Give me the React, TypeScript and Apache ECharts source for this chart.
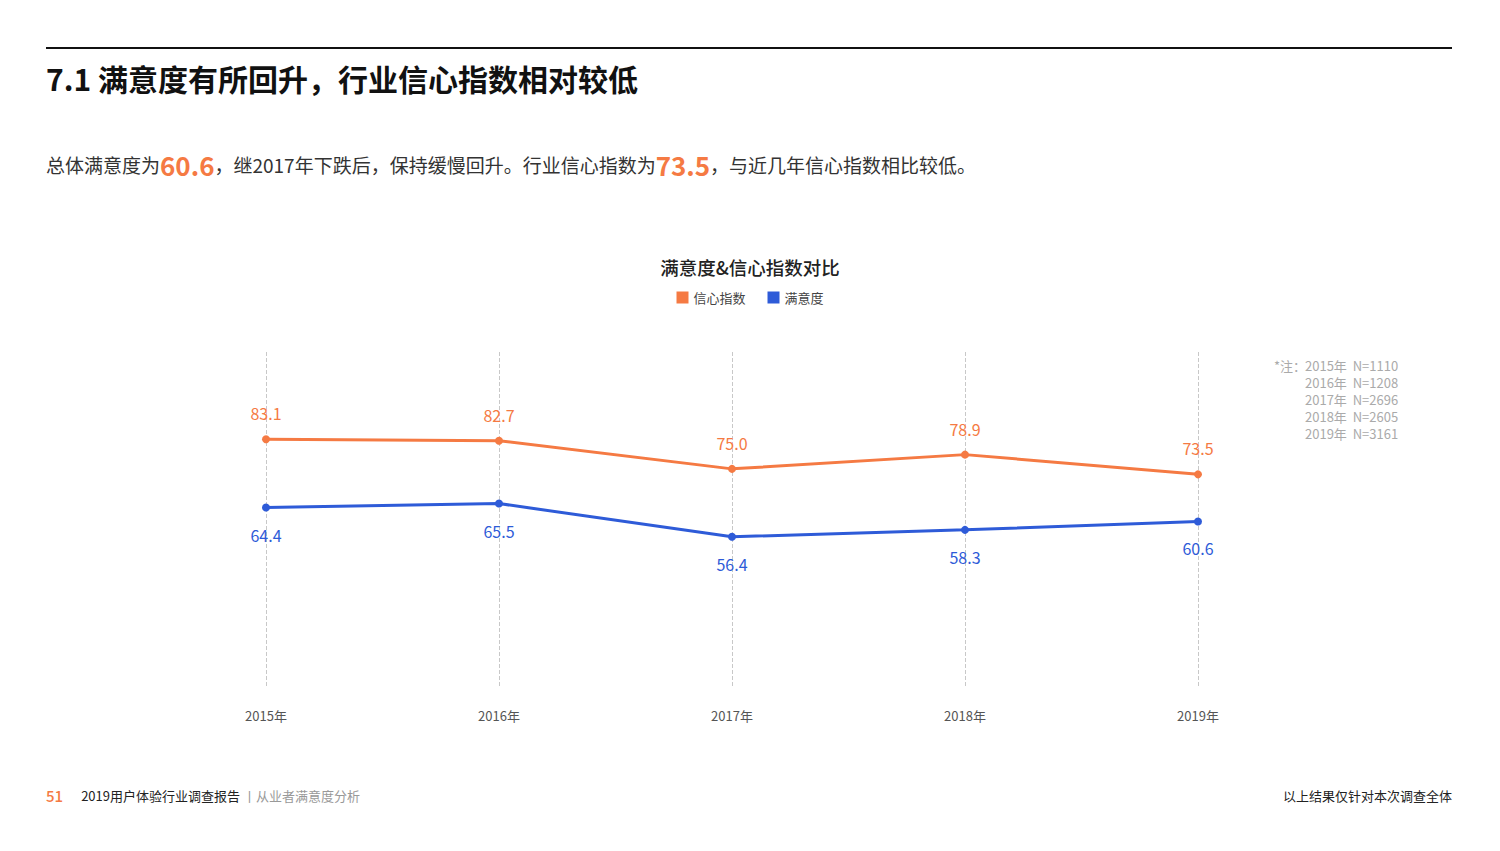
import React, { useEffect, useRef } from "react";
import * as echarts from "echarts";

const years = ["2015年", "2016年", "2017年", "2018年", "2019年"];
const confidence = [83.1, 82.7, 75.0, 78.9, 73.5];
const satisfaction = [64.4, 65.5, 56.4, 58.3, 60.6];
const noteLines = ["2015年  N=1110", "2016年  N=1208", "2017年  N=2696", "2018年  N=2605", "2019年  N=3161"];

const ORANGE = "#F57A43";
const BLUE = "#2E5BD8";
const FONT = "'Noto Sans CJK SC', 'Noto Sans', sans-serif";

export default function App() {
  const ref = useRef<HTMLDivElement>(null);
  useEffect(() => {
    if (!ref.current) return;
    const chart = echarts.init(ref.current, undefined, { renderer: "svg" });
    const graphics: any[] = [
      { type: "line", shape: { x1: 46, y1: 48, x2: 1452, y2: 48 }, style: { stroke: "#111", lineWidth: 2 } },
      {
        type: "text", x: 46, y: 78,
        style: { text: "7.1 满意度有所回升，行业信心指数相对较低", font: `bold 30px ${FONT}`, fill: "#111", verticalAlign: "middle" },
      },
      {
        type: "text", x: 46, y: 164,
        style: {
          text: "{a|总体满意度为}{b|60.6}{a|，继2017年下跌后，保持缓慢回升。行业信心指数为}{b|73.5}{a|，与近几年信心指数相比较低。}",
          verticalAlign: "middle",
          rich: {
            a: { fontSize: 19, fontFamily: FONT, fill: "#333", color: "#333" },
            b: { fontSize: 26, fontFamily: FONT, fontWeight: "bold", fill: ORANGE, color: ORANGE },
          },
        },
      },
      {
        type: "text", x: 1274, y: 365,
        style: { text: "*注：", font: `13px ${FONT}`, fill: "#aaa", verticalAlign: "middle" },
      },
      ...noteLines.map((t, i) => ({
        type: "text", x: 1305, y: 365 + i * 17,
        style: { text: t, font: `13px ${FONT}`, fill: "#aaa", verticalAlign: "middle" },
      })),
      {
        type: "text", x: 46, y: 795,
        style: {
          text: "{n|51}{s|     }{m|2019用户体验行业调查报告}{g| 丨从业者满意度分析}",
          verticalAlign: "middle",
          rich: {
            n: { fontSize: 15, fontFamily: FONT, fill: ORANGE, color: ORANGE, fontWeight: 500 },
            s: { fontSize: 13 },
            m: { fontSize: 13, fontFamily: FONT, fill: "#222", color: "#222" },
            g: { fontSize: 13, fontFamily: FONT, fill: "#999", color: "#999" },
          },
        },
      },
      {
        type: "text", x: 1452, y: 795,
        style: { text: "以上结果仅针对本次调查全体", font: `13px ${FONT}`, fill: "#222", align: "right", verticalAlign: "middle" },
      },
    ];

    chart.setOption({
      animation: false,
      backgroundColor: "#fff",
      title: {
        text: "满意度&信心指数对比",
        left: "center",
        top: 253,
        textStyle: { fontSize: 18.5, fontWeight: 500, color: "#222", fontFamily: FONT },
      },
      legend: {
        top: 286,
        left: "center",
        itemWidth: 12,
        itemHeight: 12,
        itemGap: 22,
        icon: "rect",
        textStyle: { fontSize: 13, color: "#444", fontFamily: FONT },
        data: ["信心指数", "满意度"],
      },
      grid: { left: 266, right: 302, top: 352, height: 336 },
      xAxis: {
        type: "category",
        data: years,
        boundaryGap: false,
        axisLine: { show: false },
        axisTick: { show: false },
        axisLabel: { margin: 21, fontSize: 13, color: "#555", fontFamily: FONT },
        splitLine: { show: true, lineStyle: { type: "dashed", color: "#c8c8c8", width: 1 } },
      },
      yAxis: {
        type: "value",
        min: 15,
        max: 107,
        show: false,
        splitLine: { show: false },
      },
      series: [
        {
          name: "信心指数",
          type: "line",
          data: confidence,
          color: ORANGE,
          symbol: "circle",
          symbolSize: 8,
          lineStyle: { width: 3, color: ORANGE },
          itemStyle: { color: ORANGE },
          label: {
            show: true, position: "top", distance: 14, fontSize: 16, color: ORANGE, fontFamily: FONT,
            formatter: (p: any) => p.value.toFixed(1),
          },
        },
        {
          name: "满意度",
          type: "line",
          data: satisfaction,
          color: BLUE,
          symbol: "circle",
          symbolSize: 8,
          lineStyle: { width: 3, color: BLUE },
          itemStyle: { color: BLUE },
          label: {
            show: true, position: "bottom", distance: 15, fontSize: 16, color: BLUE, fontFamily: FONT,
            formatter: (p: any) => p.value.toFixed(1),
          },
        },
      ],
      graphic: graphics,
    });
    return () => chart.dispose();
  }, []);
  return <div ref={ref} style={{ position: "fixed", left: 0, top: 0, width: 1500, height: 851 }} />;
}
